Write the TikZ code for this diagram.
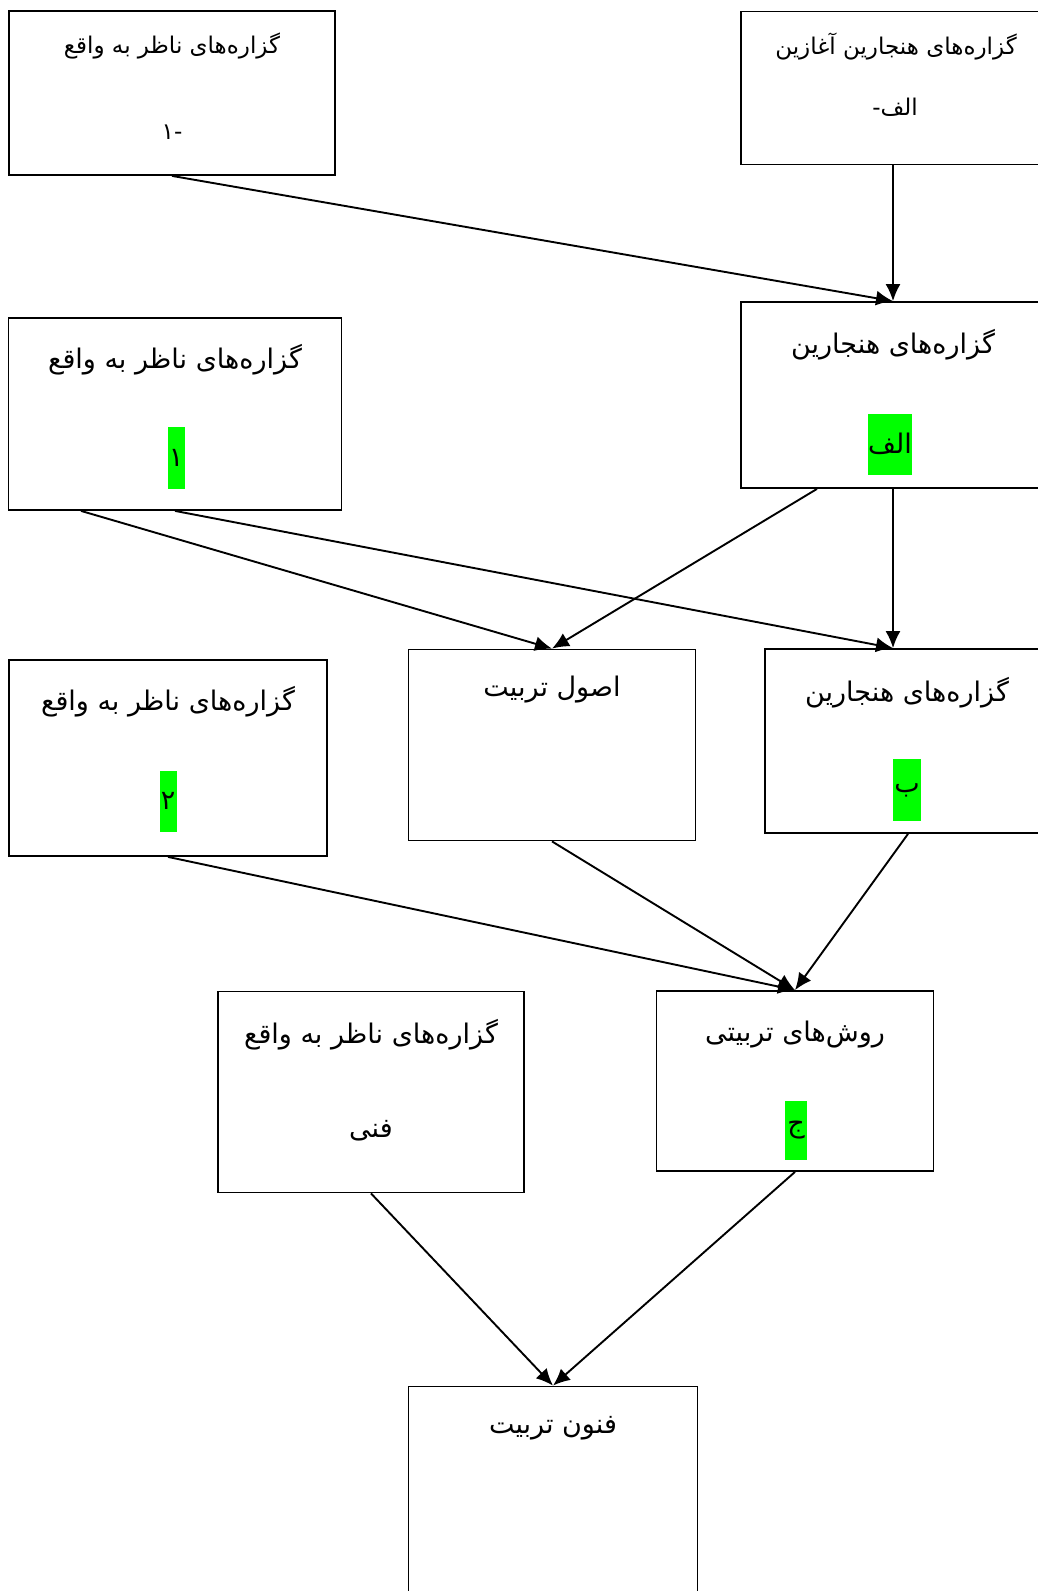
\documentclass[tikz,border=0pt]{standalone}
\usepackage{fontspec}
\usepackage{tikz}
\usetikzlibrary{arrows.meta}
\newfontfamily\arabicfont[Script=Arabic]{DejaVu Sans}
\TeXXeTstate=1
\definecolor{markgreen}{RGB}{0,255,0}

\begin{document}
\begin{tikzpicture}[
  x=1pt,y=-1pt,
  box/.style={rectangle,draw=black,line width=1.8pt,inner sep=0pt},
  title/.style={inner sep=0pt,font=\arabicfont\fontsize{27}{31}\selectfont},
  smalltitle/.style={inner sep=0pt,font=\arabicfont\fontsize{23}{27}\selectfont},
  marker/.style={fill=markgreen,inner sep=0pt,
    font=\arabicfont\fontsize{27}{31}\selectfont},
  arrow/.style={-{Latex[length=17pt,width=15pt]},line width=1.9pt}
]
\useasboundingbox (0,0) rectangle (1038,1591);

\node[box,minimum width=326pt,minimum height=164pt] (fact0) at (172,93) {};
\node[smalltitle] (fact0t) at (172,46) {\beginR گزاره^^^^200cهای ناظر به واقع\endR};
\node[smalltitle] (fact0n) at (172,132) {-۱};

\node[box,minimum width=304pt,minimum height=153pt] (norm0) at (893,88) {};
\node[smalltitle] (norm0t) at (896,47) {\beginR گزاره^^^^200cهای هنجارین آغازین\endR};
\node[smalltitle] (norm0n) at (895,107) {\beginR الف-\endR};

\node[box,minimum width=304pt,minimum height=186pt] (normA) at (893,395) {};
\node[title] (normAt) at (893,345) {\beginR گزاره^^^^200cهای هنجارین\endR};
\node[marker,minimum width=43pt,minimum height=61pt] (normAm) at (890,444) {الف};

\node[box,minimum width=333pt,minimum height=192pt] (fact1) at (175,414) {};
\node[title] (fact1t) at (175,360) {\beginR گزاره^^^^200cهای ناظر به واقع\endR};
\node[marker,minimum width=17pt,minimum height=62pt] (fact1m) at (176,458) {۱};

\node[box,minimum width=287pt,minimum height=191pt] (usul) at (552,745) {};
\node[title] (usult) at (552,690) {\beginR اصول تربیت\endR};

\node[box,minimum width=286pt,minimum height=184pt] (normB) at (908,741) {};
\node[title] (normBt) at (907,693) {\beginR گزاره^^^^200cهای هنجارین\endR};
\node[marker,minimum width=28pt,minimum height=62pt] (normBm) at (907,790) {ب};

\node[box,minimum width=318pt,minimum height=196pt] (fact2) at (168,758) {};
\node[title] (fact2t) at (168,702) {\beginR گزاره^^^^200cهای ناظر به واقع\endR};
\node[marker,minimum width=17pt,minimum height=61pt] (fact2m) at (168,801) {۲};

\node[box,minimum width=306pt,minimum height=201pt] (factT) at (371,1092) {};
\node[title] (factTt) at (371,1035) {\beginR گزاره^^^^200cهای ناظر به واقع\endR};
\node[title] (factTn) at (371,1131) {فنی};

\node[box,minimum width=277pt,minimum height=180pt] (ravesh) at (795,1081) {};
\node[title] (raveshT) at (795,1035) {\beginR روش^^^^200cهای تربیتی\endR};
\node[marker,minimum width=22pt,minimum height=59pt] (raveshm) at (796,1130) {ج};

\node[box,minimum width=289pt,minimum height=223pt] (fonun) at (553,1498) {};
\node[title] (fonunt) at (553,1428) {\beginR فنون تربیت\endR};

\draw[arrow] (fact0.south) -- (normA.north);
\draw[arrow] (norm0.south) -- (normA.north);
\draw[arrow] ([xshift=-76pt]normA.south) -- (usul.north);
\draw[arrow] (normA.south) -- ([xshift=-15pt]normB.north);
\draw[arrow] ([xshift=-94pt]fact1.south) -- (usul.north);
\draw[arrow] (fact1.south) -- ([xshift=-15pt]normB.north);
\draw[arrow] (usul.south) -- (ravesh.north);
\draw[arrow] (normB.south) -- (ravesh.north);
\draw[arrow] (fact2.south) -- (ravesh.north);
\draw[arrow] (factT.south) -- (fonun.north);
\draw[arrow] (ravesh.south) -- (fonun.north);
\end{tikzpicture}
\end{document}
